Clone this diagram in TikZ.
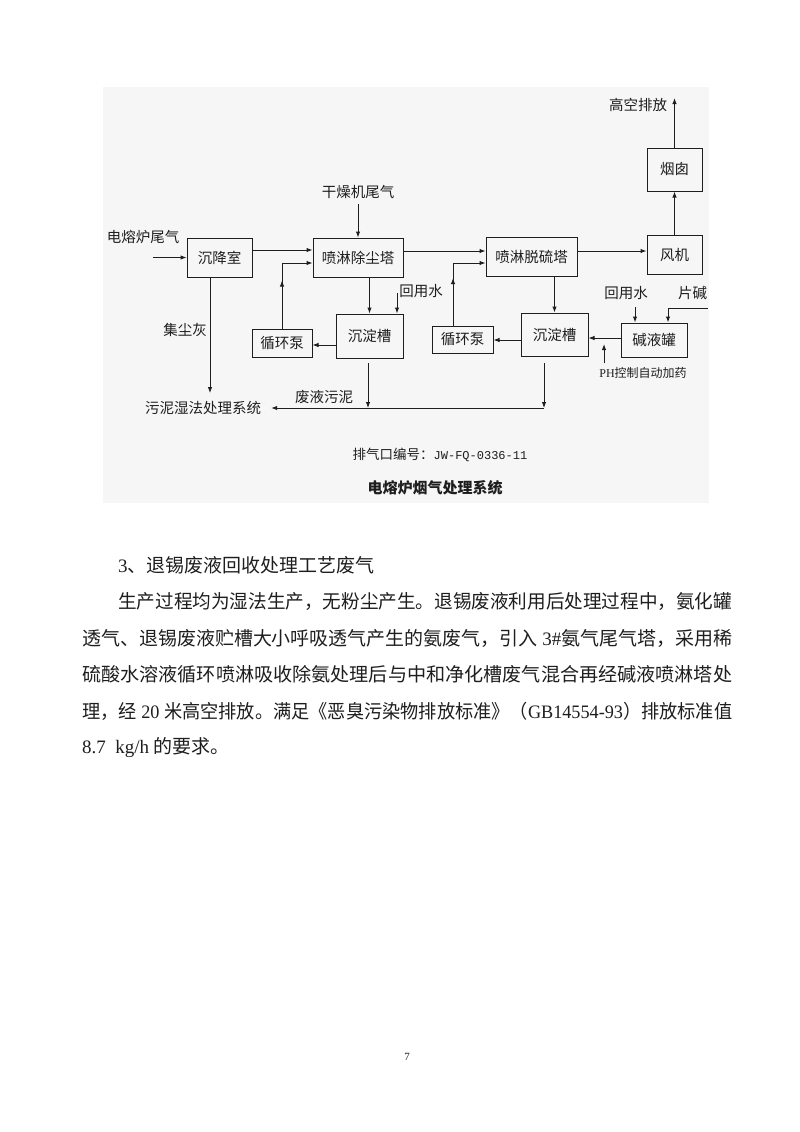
\documentclass[tikz,border=0pt]{standalone}
\usepackage{fontspec}
\setmainfont{Liberation Serif}
\newfontfamily\cjk{Noto Sans CJK SC}
\newfontfamily\codefont{Liberation Mono}
\usetikzlibrary{arrows.meta, calc, positioning, decorations.markings}
\definecolor{figgray}{HTML}{F6F6F6}
\definecolor{ink}{HTML}{1E1E1E}
\newcommand{\fitline}[2]{\resizebox{#1}{\height}{#2}}

\begin{document}
\begin{tikzpicture}[x=1pt, y=-1pt,
    >={Latex[length=6pt, width=4.5pt]},
    every node/.style={text=ink},
    stage/.style={draw=ink, line width=1pt, inner sep=0pt,
      font=\cjk\fontsize{14.5}{14.5}\selectfont},
    lbl/.style={inner sep=0pt, font=\cjk\fontsize{14.5}{14.5}\selectfont},
    flow/.style={->, draw=ink, line width=1pt},
    midarrow/.style={postaction={decorate}, decoration={markings,
      mark=at position #1 with {\arrow{>}}}},
    para/.style={inner sep=0pt, anchor=west, font=\cjk\fontsize{19}{19}\selectfont},
  ]

  % Page and figure background
  \fill[white] (0,0) rectangle (800,1132);
  \useasboundingbox (0,0) rectangle (800,1132);
  \fill[figgray] (103,87) rectangle (709,503);

  % Nodes
  \node[stage, minimum width=65pt, minimum height=39pt] (settle) at (219.5,257.5) {沉降室};
  \node[stage, minimum width=90pt, minimum height=39pt] (dust) at (358,257.5) {喷淋除尘塔};
  \node[stage, minimum width=91pt, minimum height=39pt] (desulf) at (531.5,256.5) {喷淋脱硫塔};
  \node[stage, minimum width=55pt, minimum height=39pt] (fan) at (674.5,254.5) {风机};
  \node[stage, minimum width=55pt, minimum height=43pt] (stack) at (674.5,169.5) {烟囱};
  \node[stage, minimum width=60pt, minimum height=28pt] (pumpA) at (282,343) {循环泵};
  \node[stage, minimum width=67pt, minimum height=44pt] (tankA) at (369.5,336) {沉淀槽};
  \node[stage, minimum width=61pt, minimum height=27pt] (pumpB) at (462.5,339.5) {循环泵};
  \node[stage, minimum width=67pt, minimum height=43pt] (tankB) at (554.5,334.5) {沉淀槽};
  \node[stage, minimum width=66pt, minimum height=34pt] (lye) at (654,340) {碱液罐};

  % Labels
  \node[lbl] (furnace) at (143,237) {电熔炉尾气};
  \node[lbl] (dryer) at (358,191.5) {干燥机尾气};
  \node[lbl] (sky) at (638,105) {高空排放};
  \node[lbl] (ash) at (185,330) {集尘灰};
  \node[lbl] (waterA) at (421,291) {回用水};
  \node[lbl] (waste) at (324,397) {废液污泥};
  \node[lbl] (sludge) at (203,408) {污泥湿法处理系统};
  \node[lbl] (waterB) at (626,293.5) {回用水};
  \node[lbl] (flake) at (692.5,293.5) {片碱};
  \node[lbl, font=\cjk\fontsize{12}{12}\selectfont] (ph) at (643,373)
    {{\rmfamily PH}控制自动加药};

  % Free ends
  \coordinate (feed) at (153,257.5);
  \coordinate (skytop) at (674.5,98);
  \coordinate (waterAin) at (397,293);
  \coordinate (waterBin) at (635,307);
  \coordinate (flakein) at (708,308);
  \coordinate (flakedown) at ($(lye.north)+(14,0)$);
  \coordinate (phfoot) at (604,363);
  \coordinate (phtip) at (604,344);
  \coordinate (ashtop) at ($(settle.south)+(-9.5,0)$);
  \coordinate (drainA) at (368,363);
  \coordinate (drainB) at (544,363);
  \coordinate (riseB) at ($(pumpB.north)+(-9.5,0)$);

  % Gas line
  \draw[flow] (feed) -- (settle);
  \draw[flow] (settle.east |- 0,250) -- (dust.west |- 0,250);
  \draw[flow, shorten <=6pt] (dryer) -- (dust);
  \draw[flow] (dust.east |- 0,251) -- (desulf.west |- 0,251);
  \draw[flow] (desulf.east |- 0,251) -- (fan.west |- 0,251);
  \draw[flow] (fan) -- (stack);
  \draw[flow] (stack) -- (skytop);

  % Water loops
  \draw[flow] (dust.south -| tankA.north) -- (tankA.north);
  \draw[flow] (waterAin) -- (waterAin |- tankA.north);
  \draw[flow] (tankA.west |- 0,345) -- (pumpA.east |- 0,345);
  \draw[flow, midarrow=0.5] (pumpA.north) |- (dust.west |- 0,263);
  \draw[flow] (desulf.south -| tankB.north) -- (tankB.north);
  \draw[flow] (tankB.west |- 0,340) -- (pumpB.east |- 0,340);
  \draw[flow, midarrow=0.5] (riseB) |- (desulf.west |- 0,263);
  \draw[flow] (lye.west |- 0,338) -- (tankB.east |- 0,338);
  \draw[flow] (waterBin) -- (waterBin |- lye.north);
  \draw[flow] (flakein) -| (flakedown);
  \draw[flow] (phfoot) -- (phtip);

  % Sludge
  \draw[flow, shorten >=8pt] (ashtop) -- (ashtop |- sludge.north);
  \draw[flow] (drainA) -- (drainA |- sludge);
  \draw[flow] (drainB) -- (drainB |- sludge);
  \draw[flow, shorten >=10pt] (drainB |- sludge) -- (sludge.east);

  % Captions
  \node[lbl, font=\cjk\fontsize{13.5}{13.5}\selectfont] (ventid) at (440,455)
    {排气口编号：{\codefont\fontsize{12}{12}\selectfont JW-FQ-0336-11}};
  \node[lbl, font=\cjk\bfseries\fontsize{15}{15}\selectfont] (figtitle) at (435,488)
    {电熔炉烟气处理系统};

  % Body text
  \node[para] (head) at (118,565) {{\rmfamily 3}、退锡废液回收处理工艺废气};
  \node[para] (lineA) at (118,601.5)
    {\fitline{614pt}{生产过程均为湿法生产，无粉尘产生。退锡废液利用后处理过程中，氨化罐}};
  \node[para] (lineB) at (82,638)
    {\fitline{650pt}{透气、退锡废液贮槽大小呼吸透气产生的氨废气，引入{\rmfamily\ 3\#}氨气尾气塔，采用稀}};
  \node[para] (lineC) at (82,674.5)
    {\fitline{650pt}{硫酸水溶液循环喷淋吸收除氨处理后与中和净化槽废气混合再经碱液喷淋塔处}};
  \node[para] (lineD) at (82,711)
    {\fitline{650pt}{理，经{\rmfamily\ 20 }米高空排放。满足《恶臭污染物排放标准》（{\rmfamily GB14554-93}）排放标准值}};
  \node[para] (lineE) at (82,747.5) {{\rmfamily 8.7\ \ kg/h }的要求。};

  % Page number
  \node[font=\rmfamily\fontsize{11}{11}\selectfont] (pageno) at (407,1057) {7};

\end{tikzpicture}
\end{document}
